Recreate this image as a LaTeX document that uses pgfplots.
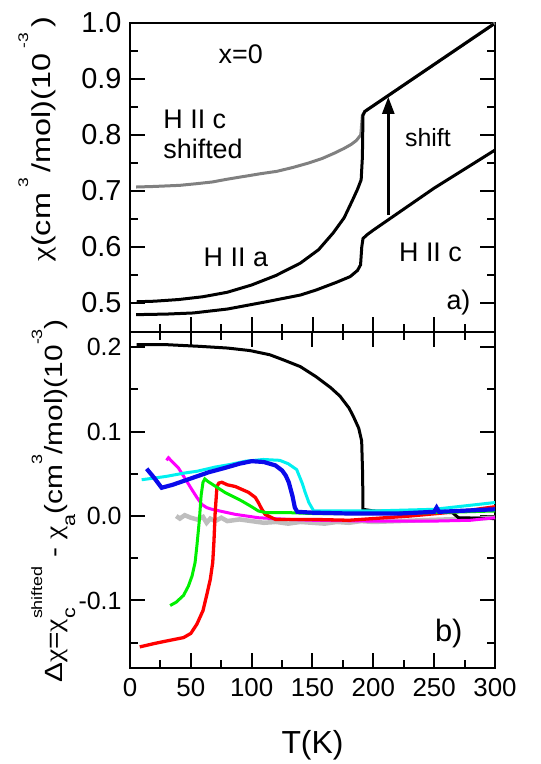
\documentclass[border=0pt]{standalone}
\usepackage{fontspec}
\setmainfont{Liberation Sans}
\newfontfamily\chifont{Liberation Serif}
\usepackage{pgfplots}
\pgfplotsset{compat=1.18}
\usetikzlibrary{arrows.meta}
\definecolor{cgrey}{RGB}{128,128,128}
\definecolor{lgrey}{RGB}{190,190,190}
\definecolor{cblue}{RGB}{10,10,235}
\definecolor{cred}{RGB}{255,0,0}
\definecolor{cgreen}{RGB}{0,240,0}
\definecolor{ccyan}{RGB}{0,240,240}
\definecolor{cmag}{RGB}{255,0,255}
\newcommand{\cchi}{{\chifont χ}}
\newcommand{\supA}[1]{\,\raisebox{22bp}{\fontsize{14}{14}\selectfont #1}\,}
\newcommand{\supB}[1]{\raisebox{20bp}{\fontsize{15}{15}\selectfont #1}}
\newcommand{\subB}[1]{\raisebox{-13bp}{\fontsize{18}{18}\selectfont #1}}
\begin{document}
\begin{tikzpicture}
\useasboundingbox (-130bp,-96bp) rectangle (411bp,668bp);
\pgfplotsset{
  every axis/.append style={
    scale only axis, width=365bp, xmin=0, xmax=300,
    tick align=inside, major tick length=15bp, minor tick length=8bp,
    axis line style={line width=2.2bp},
    every tick/.style={black, line width=2bp},
    /pgf/number format/assume math mode=true,
    xtick={0,50,100,150,200,250,300}, minor x tick num=1,
    ytick pos=both,
  }
}
% ---------------- top panel ----------------
\begin{axis}[at={(0,336bp)}, anchor=south west, height=309bp,
  ymin=0.448, ymax=1.0,
  ytick={0.5,0.6,0.7,0.8,0.9,1.0},
  minor ytick={0.55,0.65,0.75,0.85,0.95},
  xtick pos=left, xticklabels={},
  yticklabel style={font=\fontsize{29}{29}\selectfont, xshift=-5bp,
    /pgf/number format/.cd, fixed, fixed zerofill, precision=1},
  ylabel={\cchi(cm\supA{3}/mol)(10\supA{-3})},
  ylabel style={at={(axis description cs:-0.219,0.215)}, anchor=base west, xscale=1.25,
    font=\fontsize{26}{26}\selectfont},
]
\addplot[cgrey, line width=3bp] coordinates {
(5,0.707)(20,0.708)(41,0.710)(55,0.713)(67.6,0.716)(80,0.721)(94,0.726)(108,0.731)(120.7,0.735)(134,0.742)(147,0.750)(158,0.758)(168.5,0.768)(176,0.776)(181.7,0.783)(186,0.790)(189.7,0.80)(191,0.835)(193,0.842)(300,1.0)};
\addplot[black, line width=3bp] coordinates {
(5.5,0.502)(20,0.503)(40,0.506)(60,0.511)(80,0.519)(100,0.532)(120,0.549)(140,0.571)(155,0.595)(167,0.625)(176,0.652)(183,0.684)(187,0.703)(190,0.72)(191,0.76)(191.5,0.835)(193,0.842)(299,0.998)};
\addplot[black, line width=3bp] coordinates {
(5,0.479)(30,0.480)(52,0.482)(80,0.489)(112,0.502)(140,0.514)(153,0.523)(170,0.537)(181,0.547)(187,0.558)(189.5,0.568)(190.5,0.60)(191.5,0.615)(195,0.622)(200,0.630)(212,0.648)(250,0.705)(300,0.773)};
\draw[line width=2.5bp, -{Triangle[length=17bp,width=12bp]}] (axis cs:212.3,0.657) -- (axis cs:212.3,0.868);
\node[anchor=base, inner sep=0, font=\fontsize{27}{27}\selectfont] at (axis cs:91,0.928) {x=0};
\node[anchor=base west, inner sep=0, font=\fontsize{27}{27}\selectfont] at (axis cs:27.3,0.812) {H II c};
\node[anchor=base west, inner sep=0, font=\fontsize{27}{27}\selectfont] at (axis cs:27.3,0.758) {shifted};
\node[anchor=base, inner sep=0, font=\fontsize{27}{27}\selectfont] at (axis cs:87,0.565) {H II a};
\node[anchor=base, inner sep=0, font=\fontsize{27}{27}\selectfont] at (axis cs:247,0.574) {H II c};
\node[anchor=base west, inner sep=0, font=\fontsize{25}{25}\selectfont] at (axis cs:226,0.779) {shift};
\node[anchor=base, inner sep=0, font=\fontsize{27}{27}\selectfont] at (axis cs:270,0.4875) {a)};
\end{axis}
% ---------------- bottom panel ----------------
\begin{axis}[at={(0,0)}, anchor=south west, height=336bp,
  ymin=-0.18, ymax=0.218,
  ytick={-0.1,0,0.1,0.2},
  minor ytick={-0.15,-0.05,0.05,0.15},
  xticklabel style={font=\fontsize{26}{26}\selectfont, yshift=-7bp},
  yticklabel style={font=\fontsize{25}{25}\selectfont, xshift=-5bp,
    /pgf/number format/.cd, fixed, fixed zerofill, precision=1},
  xlabel={T(K)},
  xlabel style={at={(axis description cs:0.5,-0.229)}, anchor=center, font=\fontsize{32}{32}\selectfont},
  ylabel={Δ\cchi=\cchi\rlap{\subB{c}}\supB{shifted} - \cchi\subB{a}(cm\supB{3}/mol)(10\supB{-3})},
  ylabel style={at={(axis description cs:-0.186,0.497)}, anchor=base, xscale=1.2,
    font=\fontsize{25}{25}\selectfont},
]
\addplot[lgrey, line width=4.5bp] coordinates {
(38,0.0)(41,-0.003)(45,0.001)(50,-0.002)(55,-0.004)(60,-0.001)(63,-0.008)(66,-0.003)(70,-0.006)(75,-0.002)(80,-0.006)(90,-0.004)(100,-0.006)(110,-0.008)(120,-0.007)(130,-0.009)(140,-0.007)(150,-0.008)(160,-0.009)(170,-0.007)(180,-0.008)(190,-0.006)(200,-0.007)(220,-0.006)(240,-0.005)(260,-0.004)(280,-0.003)(300,-0.002)};
\addplot[black, line width=3bp] coordinates {
(5.5,0.203)(30,0.203)(57.5,0.201)(80,0.199)(98.6,0.196)(115,0.191)(126,0.185)(140,0.177)(153,0.165)(165,0.152)(172.6,0.142)(180,0.128)(183.6,0.118)(188,0.104)(190.4,0.089)(191.2,0.05)(191.5,0.008)(200,0.006)(250,0.005)(265,0.004)(270,-0.002)(300,-0.003)};
\addplot[cmag, line width=3bp] coordinates {
(30,0.066)(31.6,0.069)(35,0.064)(39.8,0.057)(45,0.045)(50.8,0.0315)(55,0.022)(59,0.0138)(63,0.010)(67.3,0.008)(86.5,0.002)(105.5,-0.002)(130,-0.004)(150,-0.005)(200,-0.006)(250,-0.006)(280,-0.005)(300,-0.002)};
\addplot[cred, line width=3.3bp] coordinates {
(8,-0.155)(20,-0.151)(30,-0.148)(44,-0.144)(50,-0.139)(55,-0.128)(60,-0.112)(63,-0.094)(66,-0.075)(68,-0.055)(69,-0.03)(70,0.004)(71,0.025)(71.5,0.035)(73,0.039)(75.5,0.040)(80,0.037)(86.5,0.035)(97.5,0.028)(103,0.022)(105.5,0.016)(108,0.009)(111,0.002)(119.5,-0.004)(150,-0.004)(180,-0.005)(200,-0.003)(230,0.0)(260,0.004)(280,0.007)(300,0.011)};
\addplot[cgreen, line width=3bp] coordinates {
(33,-0.106)(38,-0.102)(44,-0.094)(48,-0.083)(51,-0.071)(53.5,-0.055)(55,-0.035)(57,-0.005)(58.5,0.025)(60,0.040)(61.5,0.044)(64,0.041)(78,0.028)(91.7,0.018)(100,0.011)(105.5,0.006)(112,0.004)(131,0.004)(150,0.003)(200,0.003)(250,0.004)(300,0.006)};
\addplot[ccyan, line width=3bp] coordinates {
(9.6,0.043)(20,0.045)(30,0.047)(45,0.051)(55,0.053)(70,0.058)(82,0.061)(95,0.065)(109.6,0.067)(123,0.066)(130,0.062)(137,0.055)(141.5,0.039)(144,0.028)(147,0.016)(151,0.006)(160,0.006)(200,0.006)(250,0.008)(300,0.016)};
\addplot[cblue, line width=4.2bp] coordinates {
(13.7,0.056)(20,0.045)(26,0.0335)(35,0.037)(51,0.045)(65,0.052)(78,0.057)(90,0.062)(100,0.065)(110,0.064)(119.5,0.060)(125,0.054)(128,0.048)(130.5,0.040)(133.5,0.024)(135.5,0.010)(137.5,0.005)(150,0.004)(180,0.003)(222,0.003)(250,0.005)(252,0.01)(254,0.005)(300,0.008)};
\node[anchor=base, inner sep=0, font=\fontsize{31}{31}\selectfont] at (axis cs:262,-0.149) {b)};
\end{axis}
\end{tikzpicture}
\end{document}
